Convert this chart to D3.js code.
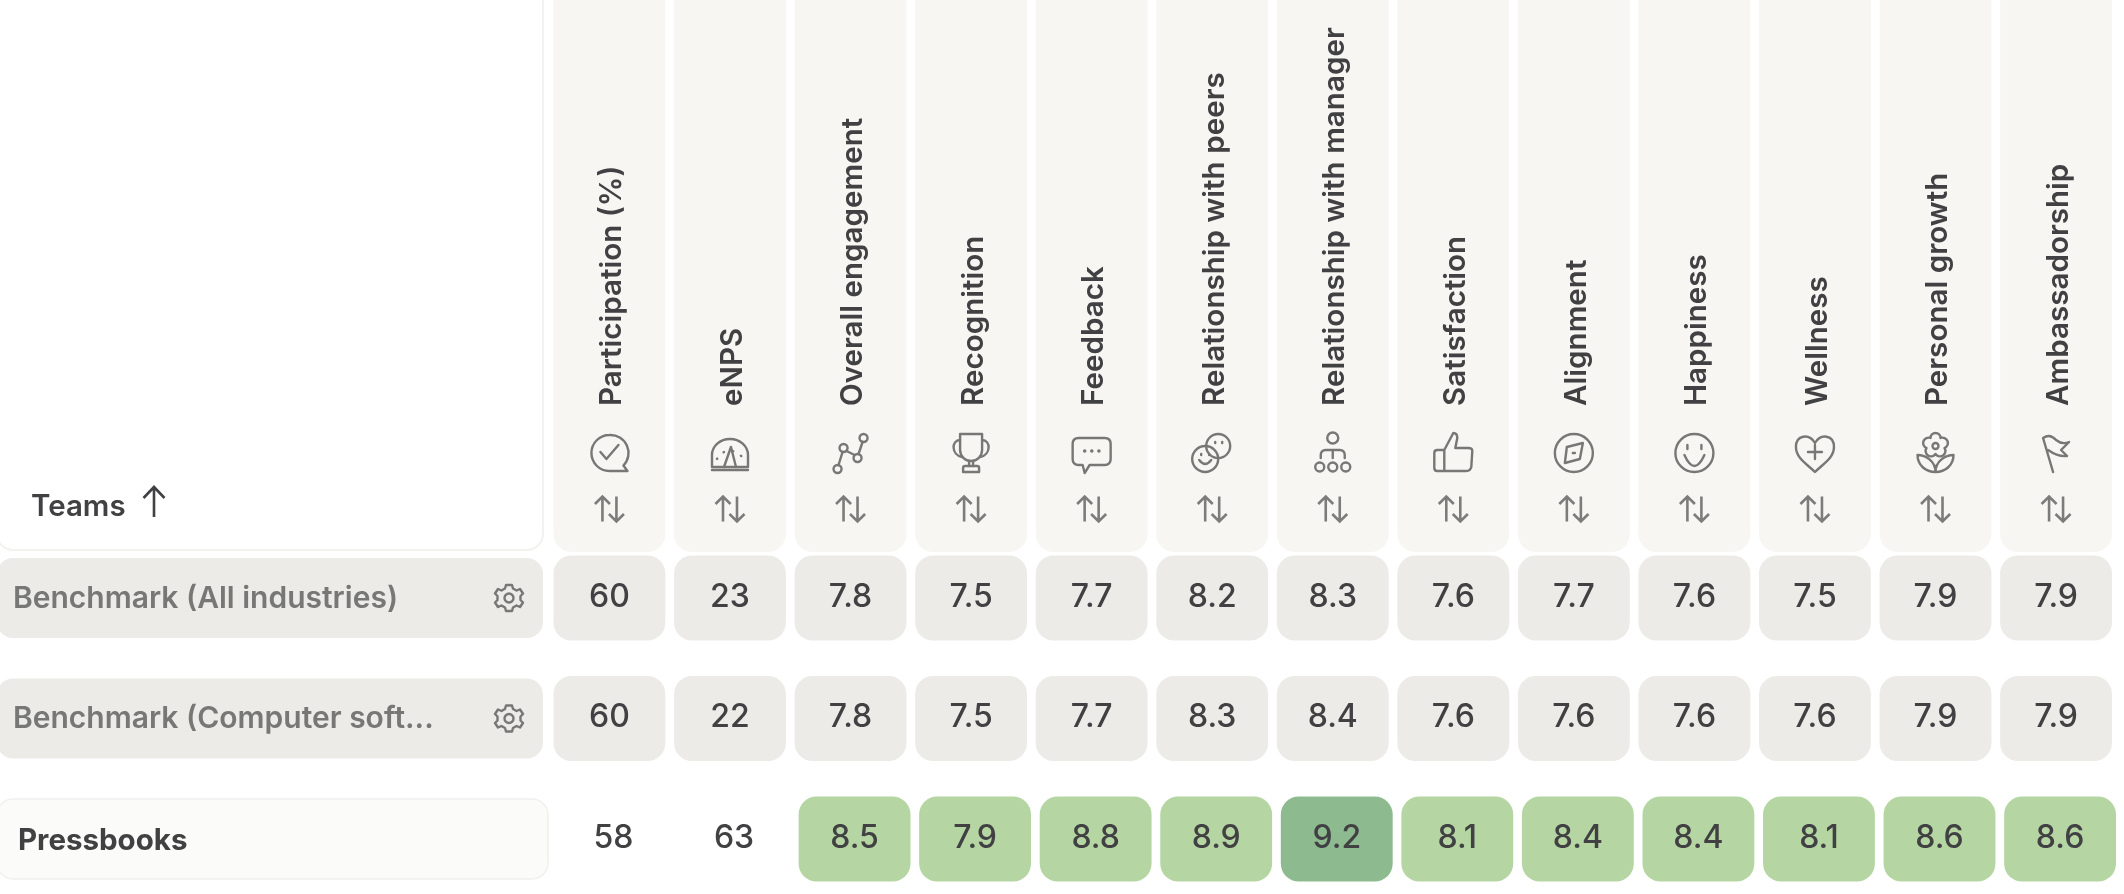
<!DOCTYPE html>
<html>
<head>
<meta charset="utf-8">
<style>
html,body{margin:0;padding:0;background:#fff;overflow:hidden}
svg{display:block;filter:blur(0.6px)}
text{font-family:Inter,"Noto Sans",sans-serif}
</style>
<script src="https://cdn.jsdelivr.net/npm/d3@7/dist/d3.min.js"></script>
</head>
<body>
<svg id="chart" width="2124" height="894"></svg>
<script>
const measures = ["Participation (%)","eNPS","Overall engagement","Recognition","Feedback","Relationship with peers","Relationship with manager","Satisfaction","Alignment","Happiness","Wellness","Personal growth","Ambassadorship"];
const teams = ["Benchmark (All industries)","Benchmark (Computer soft...","Pressbooks"];
const benchmarkAll = ["60","23","7.8","7.5","7.7","8.2","8.3","7.6","7.7","7.6","7.5","7.9","7.9"];
const benchmarkSoftware = ["60","22","7.8","7.5","7.7","8.3","8.4","7.6","7.6","7.6","7.6","7.9","7.9"];
const pressbooks = ["58","63","8.5","7.9","8.8","8.9","9.2","8.1","8.4","8.4","8.1","8.6","8.6"];
const rows = [benchmarkAll, benchmarkSoftware, pressbooks];

const icons = [
 `<path d="M0-18A18 18 0 1 0 0 18H18L14 12.500A18 18 0 0 0 0-18Z"/><path d="M-9-1-3 6 9-8"/>`,
 `<path d="M-18 14V2A18 16 0 0 1 18 2V14Z"/><path d="M-18 17H18"/><path d="M1-6-6 14M1-6 6 14"/><path stroke-dasharray="0.500 9" d="M-13 6A14 13 0 0 1 13 6"/>`,
 `<circle cx="-13" cy="16" r="4"/><circle cx="-7" cy="-5" r="4"/><circle cx="7" cy="5" r="4"/><circle cx="13" cy="-15" r="4"/><path d="M-12 12-8-1M-4-2 4 2M8 1 12-11"/>`,
 `<path d="M-11-19H11V-3A11 11 0 0 1-11-3Z"/><path d="M-11-13C-20-13-20 2-9 4M11-13C20-13 20 2 9 4"/><path d="M-2 8V13M2 8V13"/><path d="M-8 19V15Q-8 13-6 13H6Q8 13 8 15V19Z"/>`,
 `<path d="M-13-15H13Q19-15 19-9V6Q19 12 13 12H-2L-7 20-9 12H-13Q-19 12-19 6V-9Q-19-15-13-15Z"/><path stroke-dasharray="0.100 7" stroke-width="3.500" d="M-7-2H8"/>`,
 `<circle cx="6" cy="-7" r="12"/><circle cx="-7" cy="6" r="13"/><path d="M-13 7Q-7 15-1 7M-11 1V2M-3 1V2"/><path d="M3-11V-10M10-11V-10"/>`,
 `<circle cx="0" cy="-15" r="5.500"/><path d="M-12 5V2Q-12-3-7-3H7Q12-3 12 2V5M0-3V5"/><circle cx="-13" cy="14" r="4.500"/><circle cx="0" cy="14" r="4.500"/><circle cx="13" cy="14" r="4.500"/>`,
 `<path d="M-9-3H-16Q-19-3-19 0V15Q-19 18-16 18H13Q17 18 18 14L19-2Q19-5 15-5H2L4-15Q4-20 0-20L-9-3V18"/>`,
 `<circle r="19"/><path d="M-7-6 9-10 6 6-9 10Z"/><path d="M-1 0H1"/>`,
 `<circle r="19"/><path d="M-10 2Q0 24 10 2M-7-8V-4M7-8V-4"/>`,
 `<path d="M0-10C-6-20-19-18-19-6-19 5-8 11 0 19 8 11 19 5 19-6 19-18 6-20 0-10Z"/><path d="M0-8V6M-7-1H7"/>`,
 `<path d="M0 1A5 5 0 0 1-9-5 5 5 0 0 1-5-15 5 5 0 0 1 5-15 5 5 0 0 1 9-5 5 5 0 0 1 0 1Z"/><circle cy="-7" r="3"/><path d="M0 19C-10 19-18 12-18 2-10 2 0 8 0 19ZM0 19C10 19 18 12 18 2 10 2 0 8 0 19Z"/>`,
 `<path d="M-3 19-13-15Q-6-20 0-13 6-8 13-11L5-3 11 3Q2 4-8-3"/>`
];

const svg = d3.select("#chart");
const ink = "#414143", muted = "#777775", sortInk = "#7c7c7a";

const x = d3.scaleBand().domain(measures).range([553.5, 2112]).paddingInner(0.072).paddingOuter(0).align(0);
const y = d3.scalePoint().domain(teams).range([598, 839]);
const fill = d3.scaleThreshold().domain([9]).range(["#b5d6a3","#8dbb8f"]);
const cx = m => x(m) + x.bandwidth()/2;

// Top-left white header panel
svg.append("rect").attr("x",-3).attr("y",-20).attr("width",546).attr("height",570).attr("rx",16)
  .attr("fill","#fff").attr("stroke","#f3f2ef").attr("stroke-width",2);
svg.append("text").attr("x",31).attr("y",516).attr("font-size",29.500).attr("font-weight",600).attr("fill",ink).text("Teams");
svg.append("path").attr("d","M154 517V488M143.500 498 154 487 164.500 498").attr("fill","none").attr("stroke",ink).attr("stroke-width",2.6);

// Column headers
const head = svg.selectAll("g.head").data(measures).join("g").attr("class","head").attr("transform",d=>`translate(${cx(d)},0)`);
head.append("rect").attr("x",-x.bandwidth()/2).attr("y",-24).attr("width",x.bandwidth()).attr("height",576).attr("rx",18).attr("fill","#f7f6f3");
head.append("text").attr("transform","translate(1,406) rotate(-90)").attr("dy","0.36em")
  .attr("font-size",29.600).attr("font-weight",560).attr("fill",ink).text(d=>d);
head.append("g").attr("transform","translate(0,453)").attr("fill","none").attr("stroke",muted).attr("stroke-width",2.4)
  .attr("stroke-linecap","round").attr("stroke-linejoin","round").html((d,i)=>icons[i]);
head.append("path").attr("transform","translate(0,509)")
  .attr("d","M-7 12.500V-12.500M-14.500-5-7-12.500 .5-5M7-12.500V12.500M-.5 5 7 12.500 14.500 5").attr("fill","none").attr("stroke",sortInk).attr("stroke-width",2.6);

// Team label panels
const gear = "M-3-13H3L4-9.500 7.500-7.500 11-9 14-4.500 11.500-2V2L14 4.500 11 9 7.500 7.500 4 9.500 3 13H-3L-4 9.500-7.500 7.500-11 9-14 4.500-11.500 2V-2L-14-4.500-11-9-7.500-7.500-4-9.500Z";
teams.forEach((t,r)=>{
  const cy = y(t), press = r===2;
  svg.append("rect").attr("x",-3).attr("y",cy-40).attr("width",press?551:546).attr("height",80).attr("rx",16)
    .attr("fill",press?"#fbfbf9":"#ecebe7").attr("stroke",press?"#f1f0ed":"none").attr("stroke-width",1.5);
  svg.append("text").attr("x",press?18:13).attr("y",cy-(press?0:1)).attr("dy","0.36em")
    .attr("font-size",press?29.500:30).attr("font-weight",press?700:600).attr("fill",press?ink:muted).text(t);
  if(!press){
    const g = svg.append("g").attr("transform",`translate(509,${cy})`).attr("fill","none").attr("stroke",muted).attr("stroke-width",2.4);
    g.append("path").attr("d",gear).attr("stroke-linejoin","round");
    g.append("circle").attr("r",4.5);
  }
});

// Value cells
teams.forEach((t,r)=>{
  const press = r===2;
  const cell = svg.selectAll(`g.r${r}`).data(rows[r]).join("g").attr("class",`r${r}`)
    .attr("transform",(d,i)=>`translate(${cx(measures[i])+(press?4:0)},${y(t)})`);
  cell.filter((d,i)=>!press || i>1).append("rect")
    .attr("x",-x.bandwidth()/2).attr("y",-42.500).attr("width",x.bandwidth()).attr("height",85).attr("rx",18)
    .attr("fill",d=>press?fill(+d):"#ecebe7");
  cell.append("text").attr("text-anchor","middle").attr("y",-3).attr("dy","0.36em")
    .attr("font-size",32).attr("font-weight",500).attr("fill",ink).text(d=>d);
});
</script>
</body>
</html>
